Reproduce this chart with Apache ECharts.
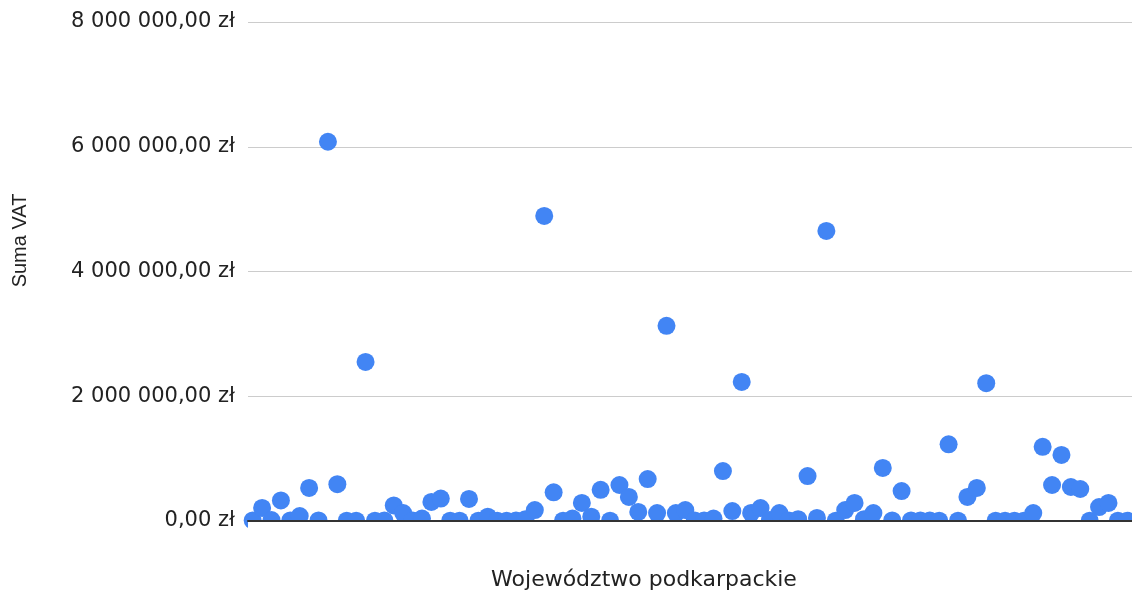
<!DOCTYPE html>
<html>
<head>
<meta charset="utf-8">
<script src="https://cdn.jsdelivr.net/npm/echarts@6/dist/echarts.min.js"></script>
<style>html,body{margin:0;padding:0;background:#fff}#c{width:1132px;height:593px}</style>
</head>
<body>
<div id="c"></div>
<script>
// Values in thousands of zł
const valuesK = [10,210,15,330,10,80,530,10,6080,590,5,5,2550,5,10,250,128,10,40,305,360,5,5,353,5,70,5,5,10,30,176,4890,460,5,40,290,70,500,5,577,385,145,673,128,3130,128,176,10,10,40,800,160,2230,130,208,15,128,10,30,720,50,4650,5,176,290,30,128,850,10,480,10,10,10,5,1230,5,385,530,2210,5,5,5,5,128,1190,577,1060,545,513,5,224,290,5,5];
const categories = valuesK.map((_, i) => String(i + 1));
const seriesValues = valuesK.map(v => v * 1000);
const yTicks = [0, 2000000, 4000000, 6000000, 8000000];
const xTitle = 'Województwo podkarpackie';
const yTitle = 'Suma VAT';

function fmt(v) {
  const s = Math.round(v).toString().replace(/\B(?=(\d{3})+(?!\d))/g, ' ');
  return s + ',00 zł';
}

const chart = echarts.init(document.getElementById('c'), null, {renderer: 'canvas'});
chart.setOption({
  animation: false,
  backgroundColor: '#ffffff',
  grid: {left: 248, right: 0, top: 22, bottom: 72, containLabel: false, outerBoundsMode: 'none'},
  xAxis: {
    type: 'category',
    data: categories,
    boundaryGap: true,
    z: 60,
    name: xTitle,
    nameLocation: 'middle',
    nameGap: 48,
    nameTextStyle: {fontFamily: 'DejaVu Sans', fontSize: 22, color: '#222', padding: [0, 92, 0, 0]},
    axisLine: {lineStyle: {color: '#333', width: 2}},
    axisTick: {show: false},
    axisLabel: {show: false},
    splitLine: {show: false}
  },
  yAxis: {
    type: 'value',
    min: yTicks[0],
    max: yTicks[yTicks.length - 1],
    interval: yTicks[1] - yTicks[0],
    name: yTitle,
    nameLocation: 'middle',
    nameGap: 218,
    nameRotate: 90,
    nameTextStyle: {fontFamily: 'Liberation Sans', fontSize: 20, color: '#222', padding: [0, 0, 0, 62]},
    axisLine: {show: false},
    axisTick: {show: false},
    axisLabel: {formatter: fmt, fontFamily: 'DejaVu Sans', fontSize: 21, color: '#222', margin: 13},
    splitLine: {lineStyle: {color: '#cccccc', width: 1}}
  },
  graphic: [{
    type: 'rect', z: 50,
    shape: {x: 248, y: 522, width: 884, height: 14},
    style: {fill: '#ffffff'}
  }],
  series: [{
    type: 'scatter',
    data: seriesValues,
    symbol: 'circle',
    symbolSize: 18,
    clip: false,
    itemStyle: {color: '#4285F4', opacity: 1}
  }]
});
</script>
</body>
</html>
